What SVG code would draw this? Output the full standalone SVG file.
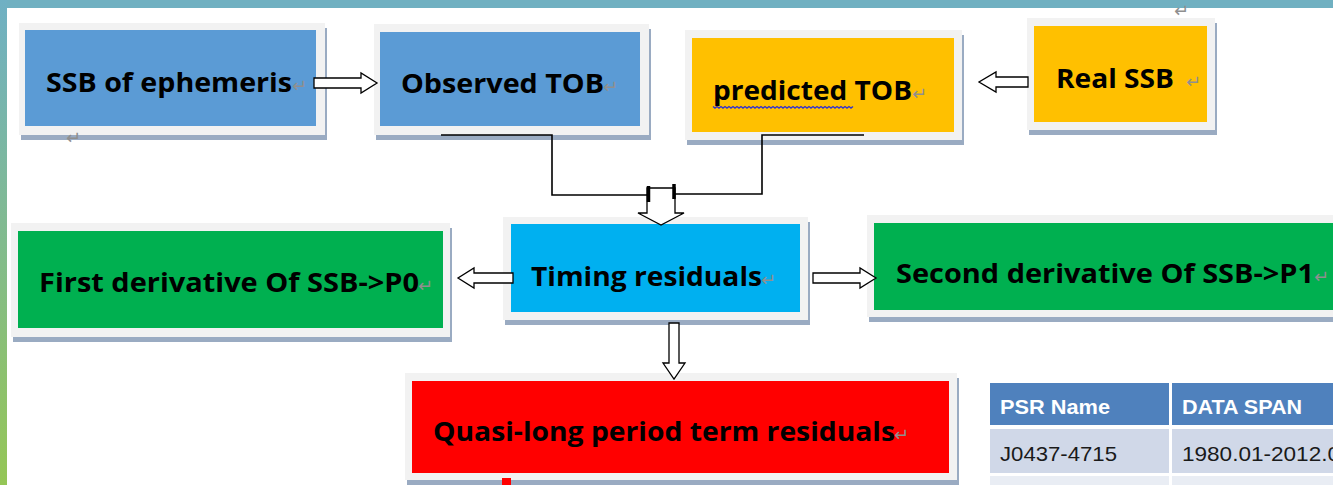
<svg xmlns="http://www.w3.org/2000/svg" width="1333" height="485" viewBox="0 0 1333 485">
<defs>
<linearGradient id="side" x1="0" y1="0" x2="0" y2="1">
<stop offset="0" stop-color="#6fb0c4"/>
<stop offset="1" stop-color="#95c656"/>
</linearGradient>
</defs>
<style>
.sh{fill:#9aabc2}
.fr{fill:#f2f2f2}
.lbl{font-family:"Open Sans","Noto Sans","DejaVu Sans",sans-serif;font-weight:bold;font-size:27px;fill:#000}
.ret{font-family:"DejaVu Sans",sans-serif;font-size:18px;fill:#8f8f8f}
.arr{fill:#fff;stroke:#000;stroke-width:1.3;stroke-linejoin:miter}
.con{fill:none;stroke:#000;stroke-width:1.6}
.th{font-family:"Liberation Sans","Open Sans",sans-serif;font-weight:bold;font-size:21px;fill:#fff}
.td{font-family:"Liberation Sans","Open Sans",sans-serif;font-size:21px;fill:#1a1a1a}
</style>
<rect x="0" y="0" width="1333" height="485" fill="#fff"/>
<rect x="0" y="0" width="1333" height="8" fill="#70b0c1"/>
<rect x="0" y="0" width="7" height="485" fill="url(#side)"/>

<g id="ssb-ephemeris">
<rect class="sh" x="21" y="28" width="306" height="112"/>
<rect class="fr" x="19" y="23" width="306" height="112"/>
<rect x="25" y="30" width="291" height="96" fill="#5b9bd5"/>
<text class="lbl" x="46" y="92" textLength="246" lengthAdjust="spacingAndGlyphs">SSB of ephemeris</text>
<text class="ret" x="292" y="92">↵</text>
</g>
<text class="ret" x="66" y="144">↵</text>

<g id="observed-tob">
<rect class="sh" x="376" y="29" width="275" height="111"/>
<rect class="fr" x="374" y="24" width="275" height="111"/>
<rect x="380" y="32" width="260" height="94" fill="#5b9bd5"/>
<text class="lbl" x="401" y="93" textLength="203" lengthAdjust="spacingAndGlyphs">Observed TOB</text>
<text class="ret" x="603" y="93">↵</text>
</g>

<g id="predicted-tob">
<rect class="sh" x="687" y="35" width="277" height="110"/>
<rect class="fr" x="685" y="30" width="277" height="110"/>
<rect x="692" y="38" width="262" height="94" fill="#ffc000"/>
<text class="lbl" x="713" y="100" textLength="199" lengthAdjust="spacingAndGlyphs">predicted TOB</text>
<text class="ret" x="912" y="100">↵</text>
<path d="M713,106.5 l2,1.5 l2,-1.5 l2,1.5 l2,-1.5 l2,1.5 l2,-1.5 l2,1.5 l2,-1.5 l2,1.5 l2,-1.5 l2,1.5 l2,-1.5 l2,1.5 l2,-1.5 l2,1.5 l2,-1.5 l2,1.5 l2,-1.5 l2,1.5 l2,-1.5 l2,1.5 l2,-1.5 l2,1.5 l2,-1.5 l2,1.5 l2,-1.5 l2,1.5 l2,-1.5 l2,1.5 l2,-1.5 l2,1.5 l2,-1.5 l2,1.5 l2,-1.5 l2,1.5 l2,-1.5 l2,1.5 l2,-1.5 l2,1.5 l2,-1.5 l2,1.5 l2,-1.5 l2,1.5 l2,-1.5 l2,1.5 l2,-1.5 l2,1.5 l2,-1.5 l2,1.5 l2,-1.5 l2,1.5 l2,-1.5 l2,1.5 l2,-1.5 l2,1.5 l2,-1.5 l2,1.5 l2,-1.5 l2,1.5 l2,-1.5 l2,1.5 l2,-1.5 l2,1.5 l2,-1.5 l2,1.5 l2,-1.5 l2,1.5 l2,-1.5 l2,1.5 l2,-1.5" fill="none" stroke="#3333cc" stroke-width="1.4"/>
</g>

<g id="real-ssb">
<rect class="sh" x="1029" y="23" width="188" height="112"/>
<rect class="fr" x="1027" y="18" width="188" height="112"/>
<rect x="1034" y="26" width="173" height="96" fill="#ffc000"/>
<text class="lbl" x="1056" y="88" textLength="118" lengthAdjust="spacingAndGlyphs">Real SSB</text>
<text class="ret" x="1186" y="88">↵</text>
</g>
<text class="ret" x="1174" y="17">↵</text>

<g id="first-derivative">
<rect class="sh" x="13" y="228" width="439" height="114"/>
<rect class="fr" x="11" y="223" width="439" height="114"/>
<rect x="18" y="231" width="425" height="97" fill="#00b050"/>
<text class="lbl" x="39" y="292" textLength="380" lengthAdjust="spacingAndGlyphs">First derivative Of SSB-&gt;P0</text>
<text class="ret" x="418" y="292">↵</text>
</g>

<g id="timing-residuals">
<rect class="sh" x="505" y="222" width="305" height="103"/>
<rect class="fr" x="503" y="217" width="305" height="103"/>
<rect x="511" y="224" width="289" height="88" fill="#00b0f0"/>
<text class="lbl" x="531" y="286" textLength="231" lengthAdjust="spacingAndGlyphs">Timing residuals</text>
<text class="ret" x="761" y="286">↵</text>
</g>

<g id="second-derivative">
<rect class="sh" x="869" y="220" width="480" height="102"/>
<rect class="fr" x="867" y="215" width="480" height="102"/>
<rect x="874" y="223" width="470" height="87" fill="#00b050"/>
<text class="lbl" x="896" y="283" textLength="418" lengthAdjust="spacingAndGlyphs">Second derivative Of SSB-&gt;P1</text>
<text class="ret" x="1314" y="283">↵</text>
</g>

<g id="quasi-long">
<rect class="sh" x="407" y="378" width="552" height="107"/>
<rect class="fr" x="405" y="373" width="552" height="107"/>
<rect x="412" y="381" width="537" height="92" fill="#ff0000"/>
<text class="lbl" x="433" y="441" textLength="462" lengthAdjust="spacingAndGlyphs">Quasi-long period term residuals</text>
<text class="ret" x="894" y="441">↵</text>
</g>
<rect x="502" y="478" width="9" height="7" fill="#ff0000"/>

<g id="connectors">
<polyline class="con" points="441,135 552,135 552,195 647,195"/>
<polyline class="con" points="864,135 762,135 762,194 675,194"/>
<polygon class="arr" points="647,188 675,188 675,213 684,213 661,225 638,213 647,213"/>
<line x1="648.5" y1="186" x2="648.5" y2="202" stroke="#000" stroke-width="3.5"/>
<line x1="674" y1="184" x2="674" y2="199" stroke="#000" stroke-width="3.5"/>
<polygon class="arr" points="314,78 361,78 361,73 377,83 361,93 361,88 314,88"/>
<polygon class="arr" points="1028,77 996,77 996,72 979,82 996,92 996,87 1028,87"/>
<polygon class="arr" points="513,273 474,273 474,268 458,278 474,288 474,283 513,283"/>
<polygon class="arr" points="813,273 860,273 860,268 876,278 860,288 860,283 813,283"/>
<polygon class="arr" points="669,323 679,323 679,363 685,363 674,379 663,363 669,363"/>
</g>

<g id="table">
<rect x="990" y="383" width="343" height="42" fill="#4f81bd"/>
<rect x="990" y="429" width="343" height="44" fill="#d0d8e8"/>
<rect x="990" y="476" width="343" height="9" fill="#e9edf4"/>
<rect x="1169" y="383" width="3" height="102" fill="#fff"/>
<text class="th" x="1000" y="414" textLength="110" lengthAdjust="spacingAndGlyphs">PSR Name</text>
<text class="th" x="1182" y="414" textLength="120" lengthAdjust="spacingAndGlyphs">DATA SPAN</text>
<text class="td" x="1000" y="461" textLength="117" lengthAdjust="spacingAndGlyphs">J0437-4715</text>
<text class="td" x="1182" y="461" textLength="158" lengthAdjust="spacingAndGlyphs">1980.01-2012.0</text>
</g>
</svg>
